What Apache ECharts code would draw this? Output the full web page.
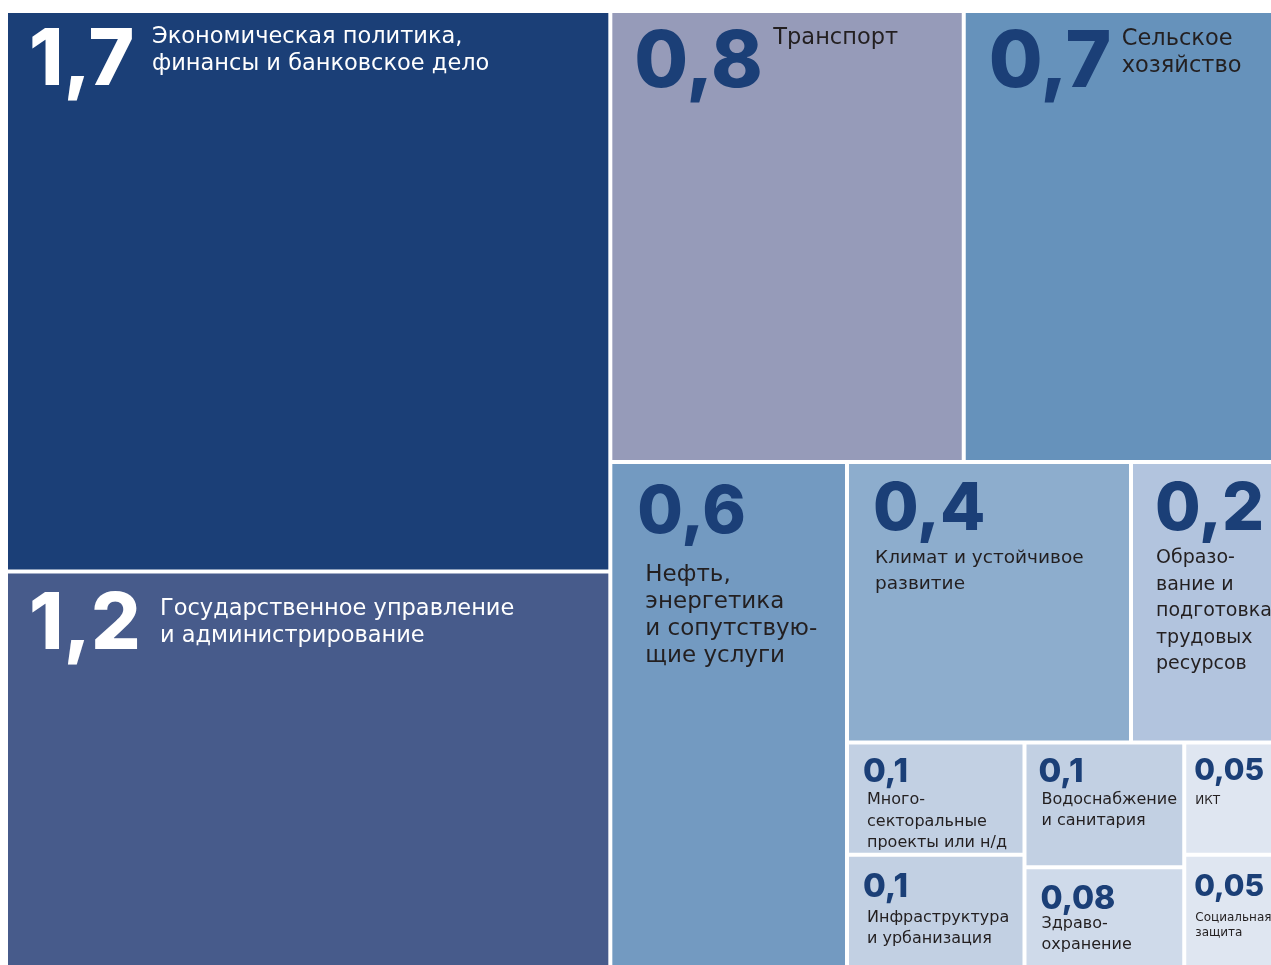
<!DOCTYPE html>
<html>
<head>
<meta charset="utf-8">
<script src="https://cdn.jsdelivr.net/npm/echarts@6/dist/echarts.min.js"></script>
<style>
html,body{margin:0;padding:0;background:#ffffff;}
#chart{width:1271px;height:965px;}
</style>
</head>
<body>
<div id="chart"></div>
<script>
// ---------- data ----------
const sectorNames = [
  'Экономическая политика, финансы и банковское дело',
  'Государственное управление и администрирование',
  'Транспорт',
  'Сельское хозяйство',
  'Нефть, энергетика и сопутствующие услуги',
  'Климат и устойчивое развитие',
  'Образование и подготовка трудовых ресурсов',
  'Многосекторальные проекты или н/д',
  'Инфраструктура и урбанизация',
  'Водоснабжение и санитария',
  'Здравоохранение',
  'ИКТ',
  'Социальная защита'
];
const sectorValues = [1.7, 1.2, 0.8, 0.7, 0.6, 0.4, 0.2, 0.1, 0.1, 0.1, 0.08, 0.05, 0.05];
const sectorLines = [
  ['Экономическая политика,', 'финансы и банковское дело'],
  ['Государственное управление', 'и администрирование'],
  ['Транспорт'],
  ['Сельское', 'хозяйство'],
  ['Нефть,', 'энергетика', 'и сопутствую-', 'щие услуги'],
  ['Климат и устойчивое', 'развитие'],
  ['Образо-', 'вание и', 'подготовка', 'трудовых', 'ресурсов'],
  ['Много-', 'секторальные', 'проекты или н/д'],
  ['Инфраструктура', 'и урбанизация'],
  ['Водоснабжение', 'и санитария'],
  ['Здраво-', 'охранение'],
  ['ИКТ'],
  ['Социальная', 'защита']
];
// grouping of the sectors (indices) that shapes the treemap
const groupTree = [[0, 1], [[2, 3], [4, [[5, 6], [[7, 8], [9, 10], [11, 12]]]]]];

// ---------- styles ----------
const cellColors = ['#1b3f77', '#475b8b', '#969bb9', '#6692bb', '#739ac1', '#8dadcd', '#b2c4de',
                    '#c2d0e3', '#c2d0e3', '#c2d0e3', '#cfdaea', '#dfe6f1', '#dfe6f1'];
const darkCells = [true, true, false, false, false, false, false, false, false, false, false, false, false];
// [dx, dy, fontSize]
const numStyle = [
  [16, 5, 78], [16, 8, 78], [17, 7, 78], [18, 7, 78],
  [20, 11, 66], [19, 8, 66], [17, 8, 66],
  [9, 6, 33], [9, 9, 33], [7, 6, 33], [9, 9, 32], [3, 6, 30], [3, 10, 30]
];
// [dx, dy, fontSize, lineHeight]
const descStyle = [
  [139, 6, 22.5, 27], [147, 17, 22.5, 27], [156, 7, 22.5, 27], [151, 8, 22.5, 27],
  [28, 93, 23, 27], [21, 76, 18.5, 26], [18, 76, 19, 26.5],
  [13, 40, 16, 21.5], [13, 46, 16, 21], [10, 40, 16, 21], [10, 39, 16, 21], [4, 43, 12, 16], [4, 49, 12, 15]
];
const NAVY = '#1b3f77';
const INK = '#231f20';
const NUM_FONT = 'Inter';
const DESC_FONT = 'DejaVu Sans';

function fmt(v) { return String(v).replace('.', ','); }

function sumOf(node) {
  if (typeof node === 'number') return sectorValues[node];
  return node.reduce((s, n) => s + sumOf(n), 0);
}

function build(node, mode) {
  if (typeof node === 'number') {
    const i = node;
    if (mode === 'num') {
      const s = numStyle[i];
      return {
        name: sectorNames[i], value: sectorValues[i], txt: fmt(sectorValues[i]),
        itemStyle: { color: cellColors[i], borderWidth: 2, borderColor: '#ffffff' },
        label: {
          position: [s[0], s[1]], fontSize: s[2], lineHeight: s[2],
          fontFamily: NUM_FONT, fontWeight: 800, color: darkCells[i] ? '#ffffff' : NAVY
        }
      };
    } else {
      const s = descStyle[i];
      return {
        name: sectorNames[i], value: sectorValues[i], txt: sectorLines[i].join('\n'),
        itemStyle: { color: 'rgba(0,0,0,0)', borderWidth: 2, borderColor: 'rgba(0,0,0,0)' },
        label: {
          position: [s[0], s[1]], fontSize: s[2], lineHeight: s[3],
          fontFamily: DESC_FONT, fontWeight: 400, color: darkCells[i] ? '#ffffff' : INK
        }
      };
    }
  }
  return {
    name: '', value: sumOf(node),
    itemStyle: { borderWidth: 0, gapWidth: 0, borderColor: mode === 'num' ? '#ffffff' : 'rgba(0,0,0,0)', color: 'rgba(0,0,0,0)' },
    children: node.map(n => build(n, mode))
  };
}

function treemapSeries(mode) {
  return {
    type: 'treemap',
    left: 6, top: 11, width: 1267, height: 956,
    roam: false, nodeClick: false, silent: true,
    sort: false, squareRatio: 1, visibleMin: 0,
    breadcrumb: { show: false },
    animation: false,
    itemStyle: { borderWidth: 0, gapWidth: 0, borderColor: mode === 'num' ? '#ffffff' : 'rgba(0,0,0,0)' },
    upperLabel: { show: false },
    label: {
      show: true, overflow: 'none',
      formatter: p => (p.data && p.data.txt) ? p.data.txt : ''
    },
    emphasis: { disabled: true },
    data: groupTree.map(n => build(n, mode))
  };
}

const chart = echarts.init(document.getElementById('chart'), null, { renderer: 'canvas' });
chart.setOption({
  backgroundColor: '#ffffff',
  animation: false,
  tooltip: { show: false },
  series: [treemapSeries('num'), treemapSeries('desc')]
});
</script>
</body>
</html>
